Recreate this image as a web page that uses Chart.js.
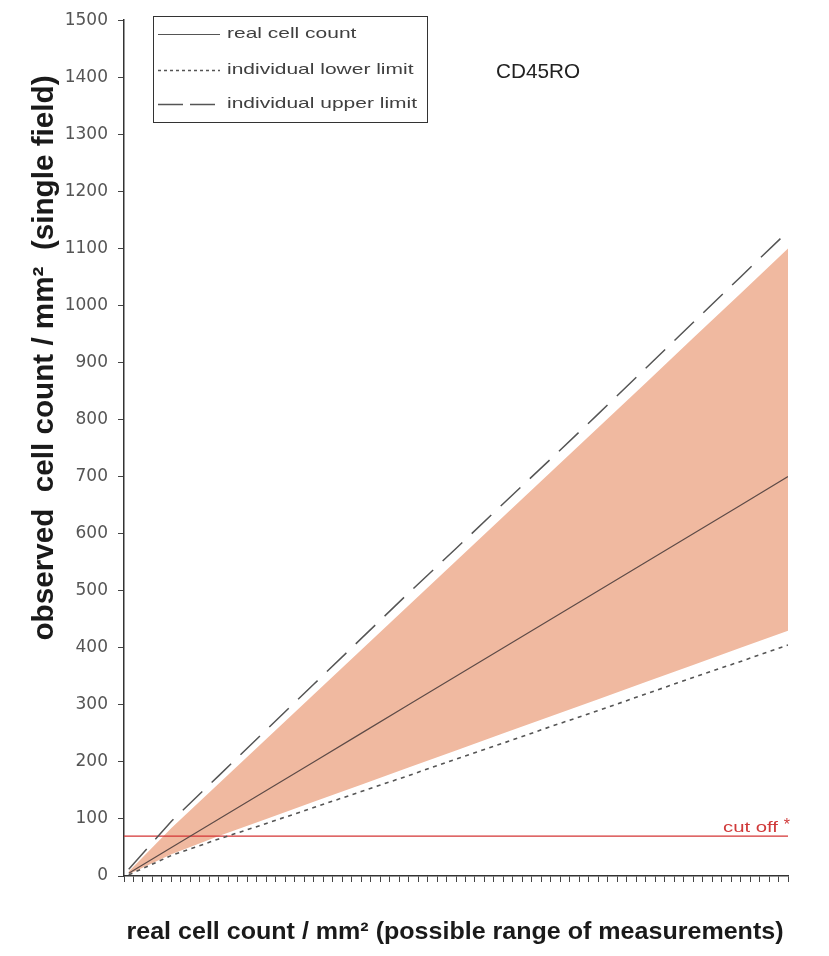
<!DOCTYPE html>
<html>
<head>
<meta charset="utf-8">
<title>CD45RO</title>
<script src="https://cdn.jsdelivr.net/npm/chart.js@4.4.1/dist/chart.umd.min.js"></script>
<style>
  body { margin: 0; background: #fff; }
  canvas { display: block; }
</style>
</head>
<body>
<canvas id="our-chart" width="829" height="956"></canvas>
<script>
// values
const realCount  = [5, 50, 100, 150, 200, 250, 300, 350, 400, 450, 500, 550, 600, 650, 700];
const observed   = [5, 50, 100, 150, 200, 250, 300, 350, 400, 450, 500, 550, 600, 650, 700];
const lowerLimit = [2, 36, 65, 92, 120, 148, 176, 205, 233, 262, 290, 319, 348, 376, 405];
const upperLimit = [12, 96, 176, 256, 336, 416, 496, 574, 653, 731, 810, 890, 970, 1050, 1130];
// shaded range (sits a bit inside the limit lines)
const bandTop    = [8, 84, 162, 240, 318, 396, 474, 552, 630, 708, 786, 864, 943, 1021, 1100];
const bandBottom = [3, 38, 70, 100, 130, 160, 190, 220, 250, 280, 310, 340, 370, 400, 430];
const cutOff = 70;
const cutOffRange = [0, 700];

const xMin = 0, xMax = 700, xStep = 10;
const yMin = 0, yMax = 1500, yStep = 100;

const yTitle = 'observed  cell count / mm\u00B2  (single field)';
const xTitle = 'real cell count / mm\u00B2 (possible range of measurements)';
const panelTitle = 'CD45RO';
const legendItems = [
  { label: 'real cell count', dash: [] },
  { label: 'individual lower limit', dash: [3, 3] },
  { label: 'individual upper limit', dash: [25, 7] }
];

function pts(xs, ys) {
  return xs.map((x, i) => ({ x: x, y: ys[i] }));
}

// draws text squeezed/stretched to a given width
function fitText(ctx, text, font, x, y, width, align, angle, thick) {
  ctx.save();
  ctx.font = font;
  const natural = ctx.measureText(text).width;
  ctx.translate(x, y);
  if (angle) ctx.rotate(angle);
  ctx.scale(width / natural, thick || 1);
  ctx.textAlign = align || 'center';
  ctx.textBaseline = 'middle';
  ctx.fillText(text, 0, 0);
  ctx.restore();
}

const annotations = {
  id: 'annotations',
  afterDraw(chart) {
    const ctx = chart.ctx;
    const xs = chart.scales.x, ys = chart.scales.y;
    const sans = '"Liberation Sans", Arial, sans-serif';

    ctx.fillStyle = '#1a1a1a';
    fitText(ctx, yTitle, 'bold 26px ' + sans, 45, 358, 565, 'center', -Math.PI / 2, 1.1);
    fitText(ctx, xTitle, 'bold 24px ' + sans, 455, 932, 657, 'center');

    ctx.fillStyle = '#222';
    fitText(ctx, panelTitle, '21px ' + sans, 538, 72, 84, 'center');

    // cut off label
    const cy = ys.getPixelForValue(cutOff);
    const right = xs.getPixelForValue(cutOffRange[1]);
    ctx.fillStyle = '#d03a3a';
    fitText(ctx, 'cut off', '14px ' + sans, right - 10, cy - 8, 55, 'right');
    ctx.save();
    ctx.font = '16px ' + sans;
    ctx.textAlign = 'right';
    ctx.textBaseline = 'middle';
    ctx.fillText('*', right + 2, cy - 10);
    ctx.restore();

    // legend box
    ctx.save();
    ctx.strokeStyle = '#333';
    ctx.lineWidth = 1;
    ctx.strokeRect(153.5, 16.5, 274, 106);
    ctx.font = '15px ' + sans;
    const sx = 190 / ctx.measureText(legendItems[2].label).width;
    const rows = [34, 70, 104];
    legendItems.forEach((item, i) => {
      ctx.strokeStyle = '#555';
      ctx.lineWidth = item.dash.length ? 1.4 : 1.2;
      ctx.setLineDash(item.dash);
      ctx.beginPath();
      ctx.moveTo(158, rows[i] + 0.5);
      ctx.lineTo(item.dash.length === 2 && item.dash[0] > 10 ? 215 : 220, rows[i] + 0.5);
      ctx.stroke();
      ctx.setLineDash([]);
      ctx.fillStyle = '#404040';
      ctx.save();
      ctx.translate(227, rows[i]);
      ctx.scale(sx, 1);
      ctx.textAlign = 'left';
      ctx.textBaseline = 'middle';
      ctx.fillText(item.label, 0, 0);
      ctx.restore();
    });
    ctx.restore();
  }
};

const ctx = document.getElementById('our-chart').getContext('2d');
const myChart = new Chart(ctx, {
  type: 'line',
  data: {
    datasets: [
      {
        label: 'real cell count',
        data: pts(realCount, observed),
        borderColor: '#5e4b47',
        borderWidth: 1.2
      },
      {
        label: 'individual lower limit',
        data: pts(realCount, lowerLimit),
        borderColor: '#555',
        borderWidth: 1.6,
        borderDash: [4, 4.5]
      },
      {
        label: 'individual upper limit',
        data: pts(realCount, upperLimit),
        borderColor: '#555',
        borderWidth: 1.5,
        borderDash: [27, 13]
      },
      {
        label: 'cut off',
        data: pts(cutOffRange, [cutOff, cutOff]),
        borderColor: 'rgb(212,52,52)',
        borderWidth: 1.2
      },
      {
        label: 'range top',
        data: pts(realCount, bandTop),
        borderWidth: 0,
        backgroundColor: '#F0B9A0',
        fill: '+1'
      },
      {
        label: 'range bottom',
        data: pts(realCount, bandBottom),
        borderWidth: 0,
        fill: false
      }
    ]
  },
  options: {
    responsive: false,
    animation: false,
    layout: { padding: { top: 3, right: 41, left: 0, bottom: 0 } },
    elements: { point: { radius: 0 }, line: { tension: 0 } },
    plugins: {
      legend: { display: false },
      tooltip: { enabled: false }
    },
    scales: {
      x: {
        type: 'linear',
        min: xMin,
        max: xMax,
        afterBuildTicks: axis => {
          const t = [];
          for (let v = xMin; v <= xMax; v += xStep) t.push({ value: v });
          axis.ticks = t;
        },
        afterFit: s => { s.height = 80; },
        ticks: { display: false },
        grid: { drawOnChartArea: false, tickLength: 6, tickColor: '#444' },
        border: { color: '#333', width: 1.5 }
      },
      y: {
        min: yMin,
        max: yMax,
        afterFit: s => { s.width = 124; },
        ticks: {
          stepSize: yStep,
          color: '#555',
          padding: 10,
          font: { family: 'DejaVu Sans', size: 17 },
          callback: v => String(v)
        },
        grid: { drawOnChartArea: false, tickLength: 6, tickColor: '#444' },
        border: { color: '#333', width: 1.5 }
      }
    }
  },
  plugins: [annotations]
});
</script>
</body>
</html>
